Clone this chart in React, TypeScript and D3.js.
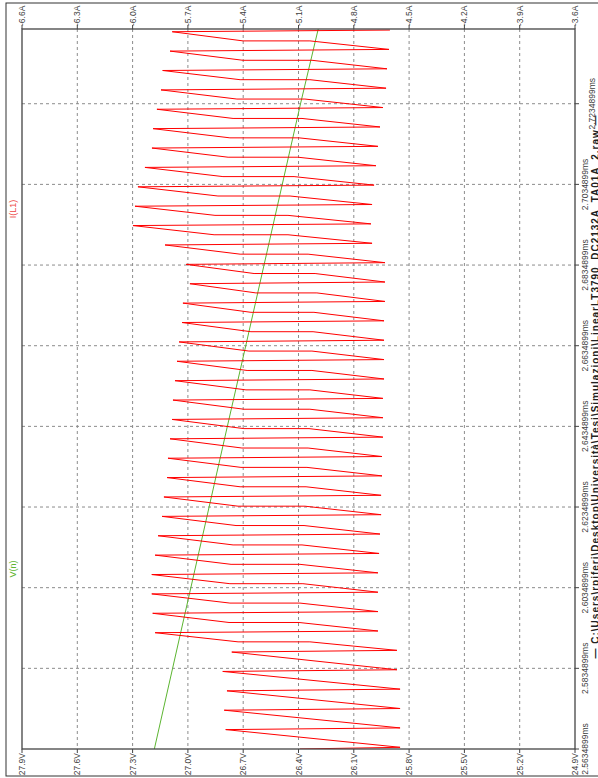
import React from 'react';
import * as d3 from 'd3';

const W = 598;
const H = 778;

const currentTicks = [-6.6, -6.3, -6.0, -5.7, -5.4, -5.1, -4.8, -4.5, -4.2, -3.9, -3.6];
const currentTickLabels = ['-6.6A', '-6.3A', '-6.0A', '-5.7A', '-5.4A', '-5.1A', '-4.8A', '-4.5A', '-4.2A', '-3.9A', '-3.6A'];
const voltageTicks = [27.9, 27.6, 27.3, 27.0, 26.7, 26.4, 26.1, 25.8, 25.5, 25.2, 24.9];
const voltageTickLabels = ['27.9V', '27.6V', '27.3V', '27.0V', '26.7V', '26.4V', '26.1V', '25.8V', '25.5V', '25.2V', '24.9V'];
const timeTicks = [2.5634899, 2.5834899, 2.6034899, 2.6234899, 2.6434899, 2.6634899, 2.6834899, 2.7034899, 2.7234899];
const timeTickLabels = ['2.5634899ms', '2.5834899ms', '2.6034899ms', '2.6234899ms', '2.6434899ms', '2.6634899ms', '2.6834899ms', '2.7034899ms', '2.7234899ms'];
const timeDomain = [2.5634899, 2.74202];

// V(n)
const vnTime = [2.5634899, 2.5834899, 2.6034899, 2.6234899, 2.6434899, 2.6634899, 2.6834899, 2.7034899, 2.7234899, 2.74202];
const vnVolts = [27.182, 27.083, 26.984, 26.885, 26.786, 26.686, 26.587, 26.488, 26.389, 26.293];

// I(L1)
const iStartTime = 2.5634899;
const iStartCurrent = -5.092;
const peakTime = [2.56391, 2.56872, 2.57353, 2.57833, 2.58314, 2.58795, 2.59275, 2.59756, 2.60237, 2.60717,
  2.61198, 2.61679, 2.62159, 2.6264, 2.63121, 2.63601, 2.64082, 2.64563, 2.65043, 2.65524,
  2.66005, 2.66485, 2.66966, 2.67447, 2.67928, 2.68408, 2.68889, 2.6937, 2.6985, 2.70331,
  2.70812, 2.71292, 2.71773, 2.72254, 2.72734, 2.73215, 2.73696, 2.74176];
const peakCurrent = [-4.549, -4.549, -4.549, -4.549, -4.566, -4.566, -4.669, -4.669, -4.669, -4.669,
  -4.663, -4.658, -4.652, -4.652, -4.647, -4.647, -4.642, -4.642, -4.642, -4.636,
  -4.636, -4.636, -4.636, -4.631, -4.631, -4.631, -4.701, -4.707, -4.701, -4.690,
  -4.680, -4.669, -4.658, -4.642, -4.625, -4.620, -4.609, -4.604];
const kneeTime = [null, null, null, null, null, 2.59006, 2.59486, 2.59967, 2.60448, 2.60928,
  2.61409, 2.6189, 2.6237, 2.62851, 2.63332, 2.63812, 2.64293, 2.64774, 2.65254, 2.65735,
  2.66216, 2.66696, 2.67177, 2.67658, 2.68139, 2.68619, 2.691, 2.69581, 2.70061, 2.70542,
  2.71023, 2.71503, 2.71984, 2.72465, 2.72945, 2.73426, 2.73907];
const kneeHiCurrent = [null, null, null, null, null, -5.038, -5.097, -5.092, -5.076, -5.092,
  -5.081, -5.070, -5.065, -5.059, -5.054, -5.048, -5.043, -5.038, -5.038, -5.027,
  -5.027, -5.021, -5.016, -5.000, -5.010, -5.048, -5.157, -5.157, -5.146, -5.124,
  -5.103, -5.097, -5.081, -5.065, -5.038, -5.027, -5.038];
const kneeLoCurrent = [null, null, null, null, null, -5.428, -5.477, -5.472, -5.472, -5.466,
  -5.455, -5.439, -5.428, -5.417, -5.412, -5.407, -5.396, -5.396, -5.385, -5.379,
  -5.369, -5.358, -5.358, -5.331, -5.341, -5.417, -5.558, -5.553, -5.537, -5.510,
  -5.482, -5.472, -5.455, -5.434, -5.417, -5.401, -5.401];
const valleyTime = [2.5683, 2.57311, 2.57791, 2.58272, 2.58753, 2.59233, 2.59714, 2.60195, 2.60675, 2.61156,
  2.61637, 2.62117, 2.62598, 2.63079, 2.63559, 2.6404, 2.64521, 2.65001, 2.65482, 2.65963,
  2.66443, 2.66924, 2.67405, 2.67886, 2.68366, 2.68847, 2.69328, 2.69808, 2.70289, 2.7077,
  2.7125, 2.71731, 2.72212, 2.72692, 2.73173, 2.73654, 2.74134];
const valleyCurrent = [-5.495, -5.503, -5.488, -5.511, -5.462, -5.878, -5.891, -5.896, -5.896, -5.878,
  -5.862, -5.840, -5.830, -5.813, -5.808, -5.797, -5.786, -5.781, -5.770, -5.759,
  -5.748, -5.732, -5.727, -5.689, -5.710, -5.824, -5.998, -5.987, -5.971, -5.933,
  -5.895, -5.889, -5.868, -5.846, -5.837, -5.797, -5.785];

const traceTitles = ['I(L1)', 'V(n)'];
const fileTitle = '\u2014 C:\\Users\\rpiferi\\Desktop\\Universit\u00e0\\Tesi\\Simulazioni\\LinearLT3790_DC2132A_TA01A_2.raw \u2014';

const FONT = "'Liberation Sans', Arial, sans-serif";
const RED = '#ff0000';
const GREEN = '#5cb531';
const TXT = '#404040';

export default function App() {
  const left = 22, right = 575, top = 29, bottom = 749;
  const xI = d3.scaleLinear().domain([currentTicks[0], currentTicks[currentTicks.length - 1]]).range([left, right]);
  const xV = d3.scaleLinear().domain([voltageTicks[0], voltageTicks[voltageTicks.length - 1]]).range([left, right]);
  const yT = d3.scaleLinear().domain(timeDomain).range([bottom, top]);

  type P = { t: number; i: number };
  const pts: P[] = [{ t: iStartTime, i: iStartCurrent }];
  for (let k = 0; k < peakTime.length; k++) {
    pts.push({ t: peakTime[k], i: peakCurrent[k] });
    if (k < valleyTime.length) {
      const kt = kneeTime[k];
      if (kt != null) {
        pts.push({ t: kt, i: kneeHiCurrent[k] as number });
        pts.push({ t: kt, i: kneeLoCurrent[k] as number });
      }
      pts.push({ t: valleyTime[k], i: valleyCurrent[k] });
    }
  }
  const redPath = d3.line<P>().x(d => xI(d.i)).y(d => yT(d.t))(pts) || '';
  const greenPath = d3.line<number>().x((_, j) => xV(vnVolts[j])).y(d => yT(d))(vnTime) || '';

  const plotH = bottom - top;

  return (
    <svg width={W} height={H} style={{ position: 'absolute', left: 0, top: 0, background: '#fff' }}
      fontFamily={FONT}>
      <defs>
        <clipPath id="plotclip">
          <rect x={left} y={top} width={right - left} height={bottom - top} />
        </clipPath>
      </defs>
      <rect x={6} y={3} width={610} height={773} fill="#fff" stroke="#333" strokeWidth={1} />

      {currentTicks.map((c, j) => (j > 0 && j < currentTicks.length - 1) ? (
        <line key={'gv' + j} x1={xI(c)} x2={xI(c)} y1={top} y2={bottom} stroke="#8c8c8c" strokeWidth={1} strokeDasharray="3,3" />
      ) : null)}
      {timeTicks.map((t, j) => j > 0 ? (
        <line key={'gh' + j} x1={left} x2={right} y1={yT(t)} y2={yT(t)} stroke="#8c8c8c" strokeWidth={1} strokeDasharray="3,3" />
      ) : null)}

      <g clipPath="url(#plotclip)">
        <path d={greenPath} fill="none" stroke={GREEN} strokeWidth={1} />
        <path d={redPath} fill="none" stroke={RED} strokeWidth={1} strokeLinejoin="miter" />
      </g>

      <rect x={left} y={top} width={right - left} height={bottom - top} fill="none" stroke="#444" strokeWidth={1.3} />

      {currentTicks.map((c, j) => (
        <g key={'ti' + j}>
          <line x1={xI(c)} x2={xI(c)} y1={top - 4} y2={top} stroke="#444" strokeWidth={1} />
          <text transform={`translate(${xI(c)},${top - 3}) rotate(-90)`} textAnchor="start" dominantBaseline="central"
            fontSize={8.5} fill={TXT}>{currentTickLabels[j]}</text>
        </g>
      ))}
      {voltageTicks.map((v, j) => (
        <g key={'tv' + j}>
          <line x1={xV(v)} x2={xV(v)} y1={bottom} y2={bottom + 4} stroke="#444" strokeWidth={1} />
          <text transform={`translate(${xV(v)},${bottom + 4}) rotate(-90)`} textAnchor="end" dominantBaseline="central"
            fontSize={8.5} fill={TXT}>{voltageTickLabels[j]}</text>
        </g>
      ))}
      {timeTicks.map((t, j) => (
        <g key={'tt' + j}>
          <line x1={right} x2={right + 4} y1={yT(t)} y2={yT(t)} stroke="#444" strokeWidth={1} />
          <text transform={`translate(${j === timeTicks.length - 1 ? right + 17 : right + 10},${yT(t)}) rotate(-90)`}
            textAnchor="middle" dominantBaseline="central" fontSize={8.5} fill={TXT}>{timeTickLabels[j]}</text>
        </g>
      ))}

      <text transform={`translate(13,${top + plotH * 0.25}) rotate(-90)`} textAnchor="middle" dominantBaseline="central"
        fontSize={9} fill="#ee4444">{traceTitles[0]}</text>
      <text transform={`translate(13,${top + plotH * 0.75}) rotate(-90)`} textAnchor="middle" dominantBaseline="central"
        fontSize={9} fill={GREEN}>{traceTitles[1]}</text>

      <text transform={`translate(598.5,${(top + bottom) / 2 - 2}) rotate(-90)`} textAnchor="middle"
        fontSize={10} fontWeight="bold" fill="#222" textLength={543} lengthAdjust="spacing">{fileTitle}</text>
    </svg>
  );
}
